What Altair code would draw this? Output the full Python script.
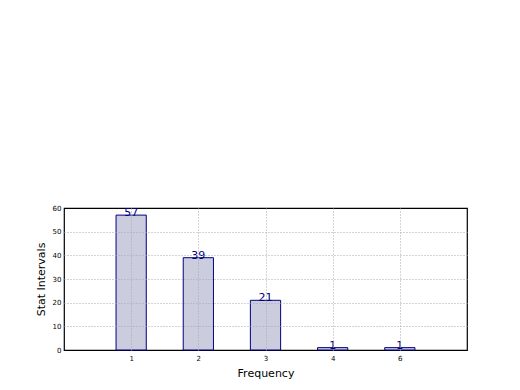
import altair as alt
import pandas as pd

labels = ["1", "2", "3", "4", "6"]
positions = [1, 2, 3, 4, 5]
values = [57, 39, 21, 1, 1]
y_ticks = [0, 10, 20, 30, 40, 50, 60]

df = pd.DataFrame({"pos": positions, "label": labels, "value": values})

label_expr = "{1:'1',2:'2',3:'3',4:'4',5:'6'}[datum.value]"

x_axis = alt.Axis(values=positions, labelExpr=label_expr, title="Frequency",
                  grid=True, gridDash=[1, 2], gridColor="#a8a8a8",
                  domain=False, ticks=False, labelFontSize=7, labelPadding=4,
                  labelOverlap=False,
                  titleFontSize=11, titleFontWeight="normal", titlePadding=6,
                  labelColor="black", titleColor="black", zindex=1,
                  labelFont="DejaVu Sans", titleFont="DejaVu Sans")
y_axis = alt.Axis(values=y_ticks, title="Stat Intervals",
                  grid=True, gridDash=[1, 2], gridColor="#a8a8a8",
                  gridOpacity=alt.condition("datum.value == 0 || datum.value == 60",
                                            alt.value(0), alt.value(1)),
                  domain=False, ticks=False, labelFontSize=7, labelPadding=3,
                  labelOverlap=False,
                  titleFontSize=11, titleFontWeight="normal", titlePadding=6,
                  labelColor="black", titleColor="black", zindex=1,
                  labelFont="DejaVu Sans", titleFont="DejaVu Sans")

x_scale = alt.Scale(domain=[0, 6], nice=False, zero=False)
y_scale = alt.Scale(domain=[0, 60], nice=False)

base = alt.Chart(df).transform_calculate(
    x0="datum.pos - 0.225", x1="datum.pos + 0.225"
)

bars = base.mark_bar(fill="#ccccdf", stroke="#000080", strokeWidth=1).encode(
    x=alt.X("x0:Q", scale=x_scale, axis=x_axis),
    x2="x1:Q",
    y=alt.Y("value:Q", scale=y_scale, axis=y_axis),
    y2=alt.datum(0),
)

text = base.mark_text(color="#000080", fontSize=11, baseline="bottom", dy=3,
                      font="DejaVu Sans").encode(
    x=alt.X("pos:Q", scale=x_scale, axis=x_axis),
    y=alt.Y("value:Q", scale=y_scale, axis=y_axis),
    text="value:Q",
)

chart = alt.layer(bars, text).properties(
    width=403, height=142,
    background="white",
    autosize=alt.AutoSizeParams(type="none"),
    padding={"left": 56, "top": 200, "right": 45, "bottom": 32},
).configure_view(stroke="black", strokeWidth=1.2)

chart.save("out.html", embed_options={"renderer": "svg", "actions": False})
